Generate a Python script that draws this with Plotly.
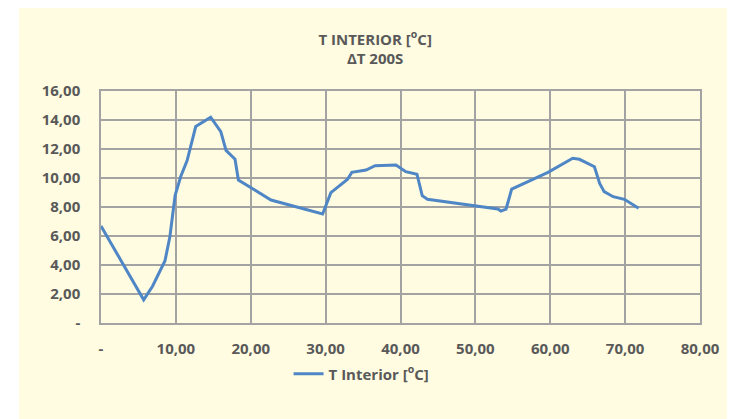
import plotly.graph_objects as go

# dane (czas, temperatura wewnętrzna)
czas = [0, 5.7, 6.9, 8.55, 9.2, 9.9, 10.65, 11.5, 12.65, 14.65, 16.0, 16.7, 17.9, 18.35,
        22.7, 29.6, 30.7, 32.9, 33.5, 35.4, 36.6, 39.4, 40.7, 42.2, 42.9, 43.6,
        53.0, 53.4, 54.1, 54.85, 59.7, 63.0, 63.9, 65.9, 66.6, 67.2, 68.4, 69.9, 71.8]
t_interior = [6.69, 1.6, 2.55, 4.3, 5.95, 8.8, 10.1, 11.2, 13.55, 14.19, 13.2, 11.9, 11.3, 9.86,
              8.48, 7.52, 8.99, 9.9, 10.39, 10.55, 10.85, 10.9, 10.44, 10.26, 8.78, 8.53,
              7.86, 7.72, 7.86, 9.24, 10.39, 11.36, 11.29, 10.78, 9.63, 9.06, 8.71, 8.53, 7.91]

x_ticks = [0, 10, 20, 30, 40, 50, 60, 70, 80]
x_labels = ['-', '10,00', '20,00', '30,00', '40,00', '50,00', '60,00', '70,00', '80,00']
y_ticks = [0, 2, 4, 6, 8, 10, 12, 14, 16]
y_labels = ['-', '2,00', '4,00', '6,00', '8,00', '10,00', '12,00', '14,00', '16,00']

krem = '#FFFCE1'
szary = '#A3A3A3'
tekst = '#595959'
czcionka = 'Open Sans'

fig = go.Figure()
fig.add_trace(go.Scatter(x=czas, y=t_interior, mode='lines',
                         line=dict(color='#4F86C6', width=3),
                         name='T Interior [<sup>o</sup>C]'))

os_wspolna = dict(showgrid=True, gridcolor=szary, gridwidth=1.5,
                  showline=True, linecolor=szary, linewidth=1.5, mirror=True,
                  zeroline=False, ticks='', tickfont=dict(family=czcionka, size=15,
                                                          color=tekst, weight='bold'))

fig.update_xaxes(range=[0, 80], tickvals=x_ticks, ticktext=x_labels,
                 ticklabelstandoff=11, **os_wspolna)
fig.update_yaxes(range=[0, 16], tickvals=y_ticks, ticktext=y_labels,
                 ticklabelstandoff=16, **os_wspolna)

# strona ma 8 px marginesu, więc figura jest o tyle mniejsza
fig.update_layout(
    width=727, height=411,
    margin=dict(l=93, r=35, t=83, b=96),
    paper_bgcolor='white', plot_bgcolor='rgba(0,0,0,0)',
    title=dict(text='T INTERIOR [<sup>o</sup>C]<br>ΔT 200S', xref='container', x=0.505,
               xanchor='center', yref='container', y=0.911, yanchor='middle',
               font=dict(family=czcionka, size=15, color=tekst, weight='bold')),
    showlegend=True,
    legend=dict(orientation='h', x=0.435, xanchor='center', y=-0.22, yanchor='middle',
                bgcolor='rgba(0,0,0,0)',
                font=dict(family=czcionka, size=15, color=tekst, weight='bold')),
    shapes=[dict(type='rect', xref='paper', yref='paper', x0=-0.137, x1=1.06,
                 y0=-0.42, y1=1.371, fillcolor=krem, line=dict(width=0), layer='below')],
)

fig.write_html('out.html')
